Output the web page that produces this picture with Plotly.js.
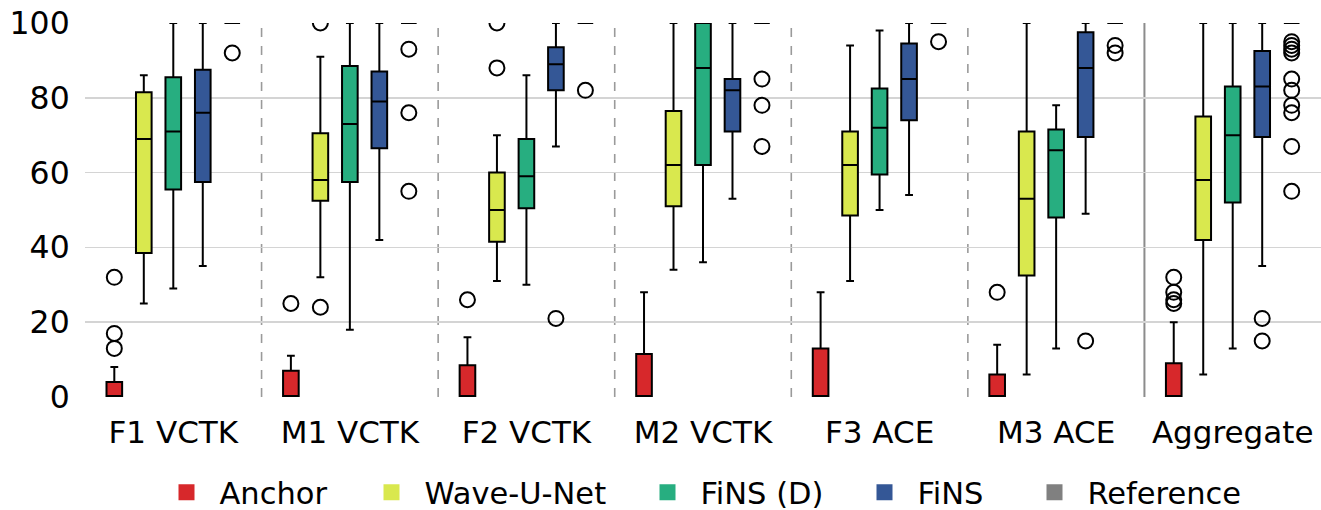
<!DOCTYPE html>
<html>
<head>
<meta charset="utf-8">
<script src="https://cdn.plot.ly/plotly-3.0.1.min.js"></script>
<style>html,body{margin:0;padding:0;background:#fff;}#chart{width:1321px;height:510px;}</style>
</head>
<body>
<div id="chart"></div>
<script>
// Categories (x axis)
const categories = ["F1 VCTK", "M1 VCTK", "F2 VCTK", "M2 VCTK", "F3 ACE", "M3 ACE", "Aggregate"];
const seriesNames = ["Anchor", "Wave-U-Net", "FiNS (D)", "FiNS", "Reference"];
const seriesColors = ["#d7282b", "#d9e84e", "#27ae80", "#345796", "#808080"];

// Anchor
const anchorQ1 = [0, 0, 0, 0, 0, 0, 0];
const anchorMedian = [0, 0, 0, 0, 0, 0, 0];
const anchorQ3 = [4, 7, 8.5, 11.5, 13, 6, 9];
const anchorLower = [0, 0, 0, 0, 0, 0, 0];
const anchorUpper = [8, 11, 16, 28, 28, 14, 20];
const anchorOutliers = [[32, 17, 13], [25], [26], [], [], [28], [32, 28, 26, 25]];

// Wave-U-Net
const waveQ1 = [38.5, 52.5, 41.5, 51, 48.5, 32.5, 42];
const waveMedian = [69, 58, 50, 62, 62, 53, 58];
const waveQ3 = [81.5, 70.5, 60, 76.5, 71, 71, 75];
const waveLower = [25, 32, 31, 34, 31, 6, 6];
const waveUpper = [86, 91, 70, 100, 94, 100, 100];
const waveOutliers = [[], [100, 24], [100, 88], [], [], [], []];

// FiNS (D)
const finsdQ1 = [55.5, 57.5, 50.5, 62, 59.5, 48, 52];
const finsdMedian = [71, 73, 59, 88, 72, 66, 70];
const finsdQ3 = [85.5, 88.5, 69, 100, 82.5, 71.5, 83];
const finsdLower = [29, 18, 30, 36, 50, 13, 13];
const finsdUpper = [100, 100, 86, 100, 98, 78, 100];
const finsdOutliers = [[], [], [], [], [], [], []];

// FiNS
const finsQ1 = [57.5, 66.5, 82, 71, 74, 69.5, 69.5];
const finsMedian = [76, 79, 89, 82, 85, 88, 83];
const finsQ3 = [87.5, 87, 93.5, 85, 94.5, 97.5, 92.5];
const finsLower = [35, 42, 67, 53, 54, 49, 35];
const finsUpper = [100, 100, 100, 100, 100, 100, 100];
const finsOutliers = [[], [], [21], [], [], [15], [21, 15]];

// Reference
const refQ1 = [100, 100, 100, 100, 100, 100, 100];
const refMedian = [100, 100, 100, 100, 100, 100, 100];
const refQ3 = [100, 100, 100, 100, 100, 100, 100];
const refLower = [100, 100, 100, 100, 100, 100, 100];
const refUpper = [100, 100, 100, 100, 100, 100, 100];
const refOutliers = [[92], [93, 76, 55], [82], [85, 78, 67], [95], [94, 92], [95, 94, 93, 92, 85, 82, 78, 76, 67, 55]];

const yTicks = [0, 20, 40, 60, 80, 100];

const stats = [
  [anchorQ1, anchorMedian, anchorQ3, anchorLower, anchorUpper, anchorOutliers],
  [waveQ1, waveMedian, waveQ3, waveLower, waveUpper, waveOutliers],
  [finsdQ1, finsdMedian, finsdQ3, finsdLower, finsdUpper, finsdOutliers],
  [finsQ1, finsMedian, finsQ3, finsLower, finsUpper, finsOutliers],
  [refQ1, refMedian, refQ3, refLower, refUpper, refOutliers]
];

// legend item widths (px), styling only
const legendWidths = [134, 205, 146, 99, 160];

const FONT = "DejaVu Sans, sans-serif";
const traces = [];
stats.forEach((s, k) => {
  traces.push({
    type: "box",
    name: seriesNames[k],
    x: categories,
    q1: s[0], median: s[1], q3: s[2], lowerfence: s[3], upperfence: s[4],
    // empty rows become [null] so plotly keeps the 2D sample layout
    y: s[5].map(r => (r.length ? r : [null])),
    boxpoints: "outliers",
    jitter: 0,
    pointpos: 0,
    fillcolor: seriesColors[k],
    line: {color: "#000000", width: 2},
    whiskerwidth: 0.5,
    marker: {symbol: "circle-open", size: 15, color: "#000000", line: {width: 2, color: "#000000"}},
    showlegend: false,
    hoverinfo: "skip"
  });
});
// legend entries
seriesNames.forEach((n, k) => {
  traces.push({
    type: "scatter", mode: "markers", name: n,
    x: [null], y: [null],
    marker: {symbol: "square", size: 16, color: seriesColors[k], line: {width: 0}},
    legendwidth: legendWidths[k],
    showlegend: true, hoverinfo: "skip"
  });
});

const shapes = [];
for (let i = 0; i < categories.length - 1; i++) {
  const last = i === categories.length - 2;
  shapes.push({
    type: "line", xref: "x", yref: "paper",
    x0: i + 0.5, x1: i + 0.5, y0: 0, y1: 1,
    line: {color: last ? "#8c8c8c" : "#9a9a9a", width: last ? 2 : 1.6, dash: last ? "solid" : "dash"},
    layer: "below"
  });
}

const layout = {
  width: 1321, height: 510,
  margin: {l: 85, r: 0, t: 23, b: 113, autoexpand: false},
  paper_bgcolor: "#ffffff", plot_bgcolor: "#ffffff",
  font: {family: FONT, size: 31, color: "#000000"},
  boxmode: "group",
  boxgap: 0.165,
  boxgroupgap: 0.47,
  xaxis: {
    type: "category",
    range: [-0.5, categories.length - 0.5],
    showgrid: false, zeroline: false, showline: false,
    ticks: "outside", ticklen: 8, tickcolor: "rgba(0,0,0,0)",
    tickfont: {family: FONT, size: 31, color: "#000"},
    fixedrange: true
  },
  yaxis: {
    range: [0, 100],
    tickvals: yTicks,
    ticktext: yTicks.map(String),
    showgrid: true, gridcolor: "#d4d4d4", gridwidth: 1.6,
    zeroline: false, showline: false,
    ticks: "outside", ticklen: 8, tickcolor: "rgba(0,0,0,0)",
    tickfont: {family: FONT, size: 31.5, color: "#000"},
    fixedrange: true
  },
  shapes: shapes,
  showlegend: true,
  legend: {
    orientation: "h",
    x: 0.5, xanchor: "center",
    y: -0.255, yanchor: "middle",
    font: {family: FONT, size: 30.5, color: "#000"},
    bgcolor: "rgba(0,0,0,0)",
    itemwidth: 56,
    itemsizing: "trace"
  }
};

Plotly.newPlot("chart", traces, layout, {displayModeBar: false, staticPlot: true});
</script>
</body>
</html>
